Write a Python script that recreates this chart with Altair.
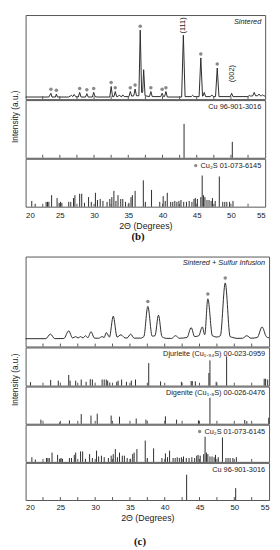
import altair as alt
import pandas as pd

# ---------------- data ----------------
# (b) Sintered pattern (2theta, intensity in % of panel height)
b_x = [20.0, 23.4, 23.7, 23.85, 24.35, 24.5, 24.65, 26.3, 26.7, 26.9, 27.1, 27.3, 27.7, 27.9, 28.1,
       28.75, 28.95, 29.15, 29.75, 29.95, 30.15, 30.5, 32.3, 32.5, 32.7, 32.9, 33.1, 33.3, 33.5, 33.7,
       33.9, 34.05, 34.2, 34.4, 35.1, 35.3, 35.5, 35.8, 36.0, 36.2, 36.55, 36.75, 36.95, 37.1, 37.25,
       37.45, 38.1, 38.3, 38.5, 39.75, 39.95, 40.15, 40.3, 40.5, 40.7, 42.8, 43.05, 43.3, 44.2, 44.4,
       44.6, 45.35, 45.6, 45.85, 45.95, 46.1, 46.3, 47.0, 47.2, 47.4, 47.75, 48.0, 48.25, 49.9, 50.1,
       50.3, 52.5, 52.7, 52.9, 53.2, 53.4, 53.6, 53.9, 54.1, 54.3, 54.45, 54.6, 54.8, 55.0]
b_y = [2.5, 2.5, 7, 2.5, 2.5, 6, 2.5, 2.5, 4.5, 3, 5.5, 3, 2.5, 8, 2.5,
       2.5, 6.5, 2.5, 2.5, 8, 3, 2.5, 2.5, 15, 3, 3, 9, 3, 3, 5,
       3, 3, 5, 3, 3, 9, 3.5, 4, 12, 4, 4, 82, 8, 8, 35,
       4, 3, 9, 3, 3, 7, 3, 3, 9, 2.5, 2.5, 76, 3, 3, 4.5,
       3, 3, 49, 3.5, 4, 8, 3, 3, 5, 3, 3, 37, 3, 3, 7,
       3, 3, 4.5, 3.5, 4, 8, 4, 4, 6, 4, 4, 5, 4, 3.5]
b_dot_x = [23.7, 24.5, 27.9, 28.95, 29.95, 32.5, 33.1, 35.3, 36.0, 36.75, 38.3, 39.95, 40.5, 45.6, 48.0]
b_dot_y = [7, 6, 8, 6.5, 8, 15, 9, 9, 12, 82, 9, 7, 9, 49, 37]
b_hkl_x = [43.05, 50.1]
b_hkl_y = [77, 19]
b_hkl = ["(111)", "(002)"]

# (c) Sintered + Sulfur Infusion pattern
c_x = [20.0, 22.9, 23.56, 24.2, 25.5, 26.2, 26.75, 27.2, 27.55, 27.9, 28.25, 28.6, 28.95, 29.4, 29.9,
       30.5, 31.0, 31.3, 31.6, 32.05, 32.6, 33.15, 33.7, 34.3, 34.6, 35.1, 35.6, 36.5, 37.0, 37.57,
       38.2, 38.6, 39.1, 39.6, 39.8, 40.3, 41.0, 41.55, 42.1, 43.2, 43.8, 44.3, 44.9, 45.4, 45.75,
       46.2, 46.85, 47.5, 48.0, 48.7, 49.4, 49.8, 50.4, 51.2, 51.8, 52.4, 53.3, 54.0, 54.6, 55.0]
c_y = [8.7, 8.7, 13.8, 8.7, 8.9, 17.4, 9.5, 11, 9.5, 11, 9.5, 12, 9.8, 16.5, 9.3,
       9.2, 11, 10, 15.5, 10.5, 33.7, 10.5, 13, 9.5, 9.5, 13.8, 9.3, 9.3, 11, 44.6,
       11.5, 12, 34.8, 11, 10, 9, 9, 12, 9.2, 10, 21, 11, 12, 21.7, 13,
       53, 12, 10.5, 12, 70.7, 11, 10, 9, 9.2, 12, 9.2, 10, 21.7, 11, 9.5]
c_dot_x = [37.57, 46.2, 48.7]
c_dot_y = [44.6, 53, 70.7]

# reference cards (stick positions, relative intensity)
cu_x = [43.15, 50.2]
cu_i = [100, 47]

cu2s_x = [20.9, 21.4, 23.0, 23.2, 23.4, 23.8, 24.6, 24.9, 25.1, 25.3, 26.3, 26.6, 27.0, 27.2, 27.9,
          28.2, 28.6, 29.2, 29.6, 30.2, 30.5, 30.9, 31.3, 31.9, 32.3, 32.6, 32.9, 33.2, 33.5, 33.9,
          34.2, 34.6, 35.1, 35.4, 35.6, 36.0, 37.2, 37.5, 38.4, 39.6, 40.1, 40.4, 40.7, 41.2, 41.5,
          41.8, 42.1, 42.4, 42.7, 43.1, 43.5, 43.9, 44.3, 44.6, 44.8, 45.1, 45.6, 45.8, 46.0, 46.2,
          46.5, 46.8, 47.1, 47.3, 47.7, 48.3, 48.8, 49.1, 49.4, 49.8, 50.3]
cu2s_i = [12, 6, 10, 10, 10, 24, 18, 8, 10, 8, 10, 10, 18, 24, 27,
          27, 8, 20, 10, 29, 14, 16, 12, 10, 16, 20, 33, 12, 24, 16,
          16, 10, 8, 20, 24, 33, 55, 10, 35, 10, 22, 12, 29, 10, 10,
          12, 10, 12, 14, 10, 10, 12, 10, 16, 18, 16, 20, 65, 24, 20,
          14, 14, 12, 18, 12, 63, 10, 10, 10, 10, 12]

djur_x = [20.7, 23.6, 24.7, 26.2, 26.4, 27.2, 28.0, 28.7, 29.3, 29.6, 31.0, 31.3, 31.6, 31.8, 32.1,
          33.1, 33.3, 33.8, 34.5, 35.2, 35.8, 37.7, 39.4, 42.4, 43.8, 43.96, 44.4, 46.35, 46.5, 47.4,
          48.9, 54.3, 54.5, 54.8]
djur_i = [9, 15, 13, 28, 13, 13, 16, 10, 17, 16, 16, 16, 16, 13, 8,
          10, 13, 16, 10, 13, 16, 59, 11, 10, 12, 12, 11, 33, 66, 10,
          77, 18, 18, 16]

dig_x = [22.2, 24.9, 26.3, 28.0, 29.4, 30.3, 32.3, 33.5, 35.9, 37.3, 40.1, 41.7, 44.85, 46.5, 51.5,
         51.8, 54.95]
dig_i = [11, 4, 9, 26, 22, 27, 22, 19, 14, 11, 20, 11, 9, 70, 10,
         7, 16]

tick_pos = [22.5, 25, 27.5, 30, 32.5, 35, 37.5, 40, 42.5, 45, 47.5, 50, 52.5]
label_vals = [20, 25, 30, 35, 40, 45, 50, 55]

# ---------------- style ----------------
FONT = "Liberation Sans"
SERIF = "Liberation Serif"
LINE = "#2a2a2a"
FRAME = "#555555"
DOT = "#8a8a8a"
TXT = "#222222"
XS = alt.Scale(domain=[20, 55], nice=False, zero=False)

W_B, W_C = 245, 249
YT_W = 13


def x_axis_bottom(pad):
    return alt.Axis(values=label_vals, format="d", ticks=False, domain=False, grid=False,
                    labelFontSize=8, labelPadding=pad, labelColor=TXT, labelFont=FONT,
                    title="2Θ (Degrees)", titleFontSize=9, titleFontWeight="normal",
                    titleFont=FONT, titleColor=TXT, titlePadding=2)


def ticks_layer(H, xaxis):
    return alt.Chart(pd.DataFrame({"pos": tick_pos})).mark_rule(
        color=FRAME, strokeWidth=1).encode(
        x=alt.X("pos:Q", scale=XS, axis=xaxis),
        y=alt.value(H), y2=alt.value(H - 3))


def label_layer(text, W, italic=False, dy=7):
    return alt.Chart(pd.DataFrame({"label": [text]})).mark_text(
        align="right", baseline="middle", font=FONT, fontSize=7.5,
        fontStyle="italic" if italic else "normal", color=TXT).encode(
        x=alt.value(W - 4), y=alt.value(dy), text="label:N")


def stick_panel(xs, ys, W, H, label, ymax, xaxis=None, dot=False):
    df = pd.DataFrame({"pos": xs, "inten": ys})
    sticks = alt.Chart(df).mark_rule(color=LINE, strokeWidth=1).encode(
        x=alt.X("pos:Q", scale=XS, axis=xaxis),
        y=alt.Y("inten:Q", scale=alt.Scale(domain=[0, ymax], nice=False), axis=None),
        y2=alt.datum(0))
    layers = [sticks, ticks_layer(H, xaxis), label_layer(label, W)]
    if dot:
        layers.append(alt.Chart(pd.DataFrame({"k": [1]})).mark_point(
            filled=True, size=12, color=DOT, opacity=1).encode(
            x=alt.value(W - 71), y=alt.value(7)))
    return alt.layer(*layers).properties(width=W, height=H)


def pattern_panel(xs, ys, dx_, dy_, W, H, label, interp, dot_off, hx=None, hy=None, ht=None):
    df = pd.DataFrame({"pos": xs, "inten": ys})
    ysc = alt.Scale(domain=[0, 100], nice=False)
    line = alt.Chart(df).mark_line(color=LINE, strokeWidth=1, interpolate=interp).encode(
        x=alt.X("pos:Q", scale=XS, axis=None),
        y=alt.Y("inten:Q", scale=ysc, axis=None))
    dots = alt.Chart(pd.DataFrame({"pos": dx_, "inten": dy_})).mark_point(
        filled=True, size=13, color=DOT, opacity=1, yOffset=dot_off).encode(
        x=alt.X("pos:Q", scale=XS, axis=None),
        y=alt.Y("inten:Q", scale=ysc, axis=None))
    layers = [line, dots, ticks_layer(H, None), label_layer(label, W, italic=True)]
    if hx:
        layers.append(alt.Chart(pd.DataFrame({"pos": hx, "inten": hy, "hkl": ht})).mark_text(
            angle=270, align="left", baseline="middle", dx=1, font=FONT, fontSize=7.5,
            color=TXT).encode(
            x=alt.X("pos:Q", scale=XS, axis=None),
            y=alt.Y("inten:Q", scale=ysc, axis=None), text="hkl:N"))
    return alt.layer(*layers).properties(width=W, height=H)


def y_title(total_h, center):
    return alt.Chart(pd.DataFrame({"t": ["Intensity (a.u.)"]})).mark_text(
        angle=270, align="center", baseline="middle", font=FONT, fontSize=8.5,
        color=TXT).encode(
        x=alt.value(6), y=alt.value(center), text="t:N"
    ).properties(width=YT_W, height=total_h, view=alt.ViewBackground(stroke="transparent"))


def fig_title(text, offset):
    return alt.TitleParams(text, orient="bottom", anchor="middle", font=SERIF, fontSize=11,
                           fontWeight="bold", color="#111111", offset=offset)


# ---------------- figure (b) ----------------
hb = [86, 59, 49]
top_b = pattern_panel(b_x, b_y, b_dot_x, b_dot_y, W_B, hb[0], "Sintered", "linear", -4,
                      b_hkl_x, b_hkl_y, b_hkl)
cu_b = stick_panel(cu_x, cu_i, W_B, hb[1], "Cu 96-901-3016", 170)
cu2s_b = stick_panel(cu2s_x, cu2s_i, W_B, hb[2], "Cu₂S 01-073-6145", 100,
                     xaxis=x_axis_bottom(5), dot=True)
panels_b = alt.vconcat(top_b, cu_b, cu2s_b, spacing=-1)
fig_b = alt.hconcat(y_title(sum(hb) - 2, 104), panels_b, spacing=0, title=fig_title("(b)", 1))

# ---------------- figure (c) ----------------
hc = [92, 39, 38, 38, 38]
top_c = pattern_panel(c_x, c_y, c_dot_x, c_dot_y, W_C, hc[0], "Sintered + Sulfur Infusion",
                      "monotone", -5)
dj_c = stick_panel(djur_x, djur_i, W_C, hc[1], "Djurleite (Cu₁.₉₄S) 00-023-0959", 100)
dig_c = stick_panel(dig_x, dig_i, W_C, hc[2], "Digenite (Cu₁.₈S) 00-026-0476", 100)
cu2s_c = stick_panel(cu2s_x, cu2s_i, W_C, hc[3], "Cu₂S 01-073-6145", 96, dot=True)
cu_c = stick_panel(cu_x, cu_i, W_C, hc[4], "Cu 96-901-3016", 147, xaxis=x_axis_bottom(4))
panels_c = alt.vconcat(top_c, dj_c, dig_c, cu2s_c, cu_c, spacing=-1)
fig_c = alt.hconcat(y_title(sum(hc) - 4, 126), panels_c, spacing=0, title=fig_title("(c)", 13))

chart = alt.vconcat(fig_b, fig_c, spacing=13).properties(
    padding={"left": 0, "top": 0, "right": 0, "bottom": 0}
).configure_view(stroke=FRAME, strokeWidth=1)

chart.save("out.html", embed_options={"renderer": "svg", "actions": False})
